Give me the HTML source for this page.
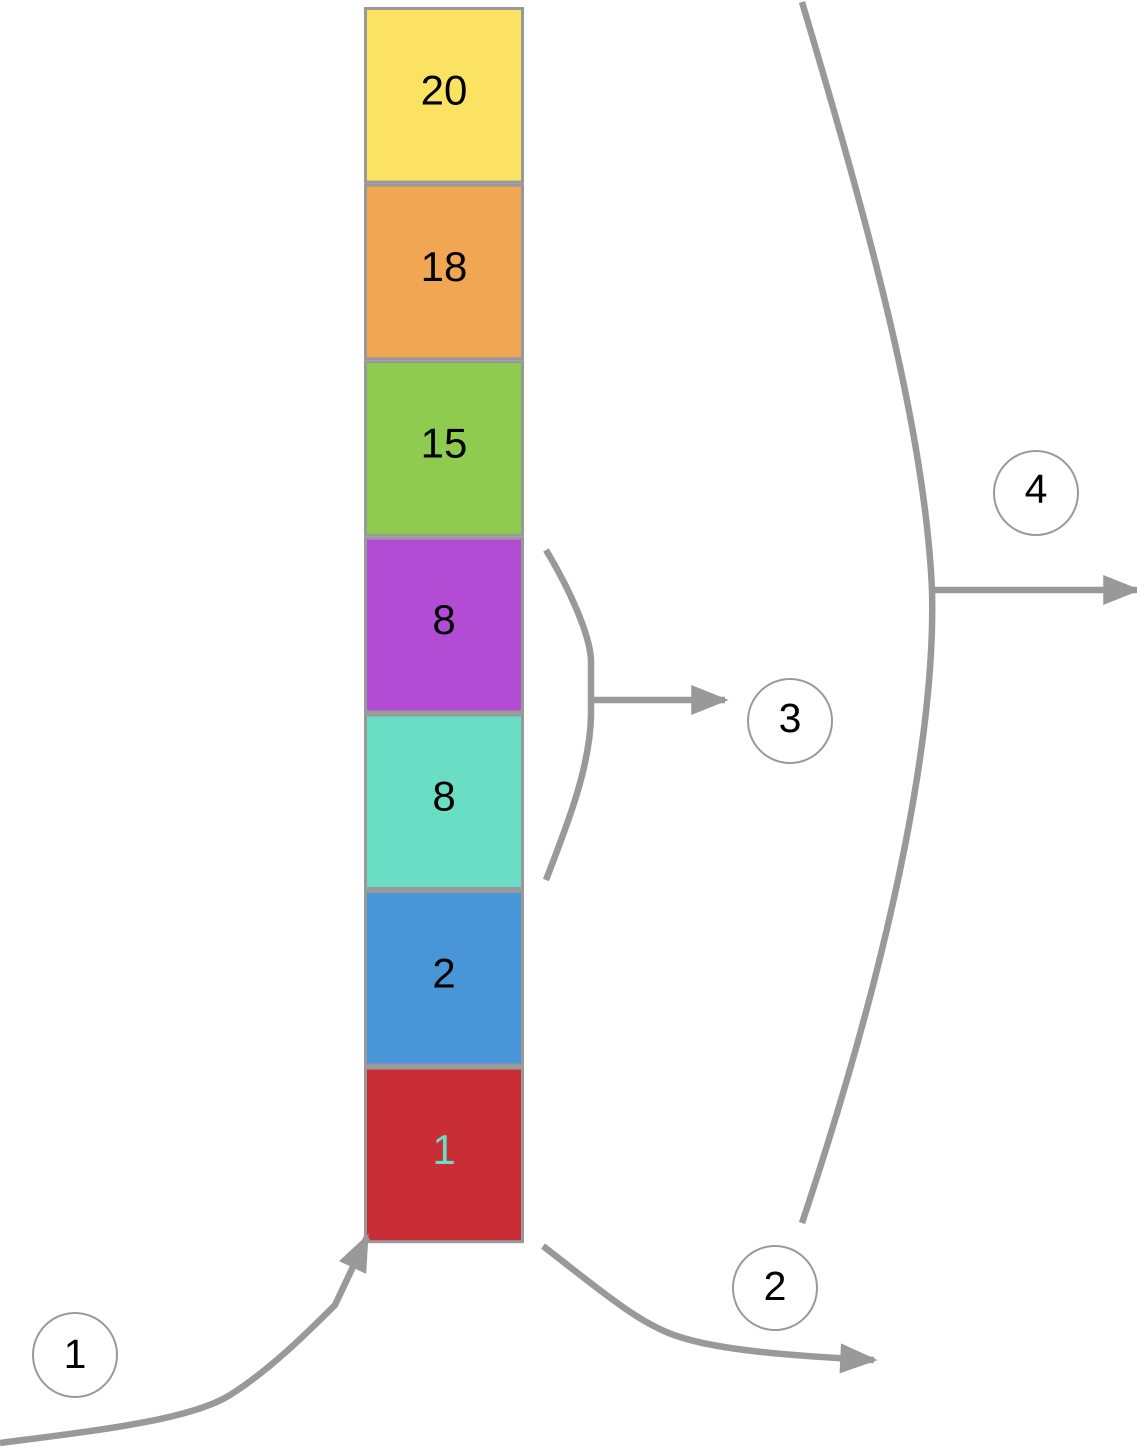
<!DOCTYPE html>
<html><head><meta charset="utf-8"><style>
html,body{margin:0;padding:0;background:#fff;}
svg{display:block;font-family:"Liberation Sans",sans-serif;}
</style></head><body>
<svg id="chart" width="1137" height="1452" viewBox="0 0 1137 1452">
<defs>
<marker id="ah2" viewBox="0 0 10 8" refX="9" refY="4" markerWidth="48" markerHeight="30" orient="auto" markerUnits="userSpaceOnUse">
<path d="M0,0 L10,4 L0,8 Z" fill="#999"/>
</marker>
</defs>
<g id="boxes"></g>
<g fill="none" stroke="#999" stroke-width="6.5">
<path d="M0,1443 C100,1430 190,1420 230,1395 C270,1370 310,1330 335,1305 L367,1237" marker-end="url(#ah2)"/>
<path d="M543,1246 C600,1290 640,1325 680,1337 C720,1350 790,1356 874,1360" marker-end="url(#ah2)"/>
<path d="M546,550 C570,590 590,635 591,660 L591,715 C590,770 565,830 546,880"/>
<path d="M591,700 L725,700" marker-end="url(#ah2)"/>
<path d="M802,2 C870,230 925,430 932,590 C935,700 910,900 802,1223"/>
<path d="M932,590 L1137,590" marker-end="url(#ah2)"/>
</g>
<g font-size="41" text-anchor="middle" fill="#000">
<g><circle cx="75" cy="1355" r="42" fill="#fff" stroke="#999" stroke-width="2"/><text x="75" y="1368">1</text></g>
<g><circle cx="775" cy="1288" r="42" fill="#fff" stroke="#999" stroke-width="2"/><text x="775" y="1300">2</text></g>
<g><circle cx="790" cy="721" r="42" fill="#fff" stroke="#999" stroke-width="2"/><text x="790" y="732">3</text></g>
<g><circle cx="1036" cy="493" r="42" fill="#fff" stroke="#999" stroke-width="2"/><text x="1036" y="503">4</text></g>
</g>
</svg>
<script>
const values = [20, 18, 15, 8, 8, 2, 1];
const fills = ["#FBE263", "#F1A653", "#8FCB4F", "#B34CD5", "#6ADEC4", "#4895D8", "#C92E36"];
const textColors = ["#000", "#000", "#000", "#000", "#000", "#000", "#6ADEC4"];
const NS = "http://www.w3.org/2000/svg";
const g = document.getElementById("boxes");
const x0 = 364, w = 160, top0 = 7, h = 176.6;
values.forEach((v, i) => {
  const y = top0 + i * h;
  const r = document.createElementNS(NS, "rect");
  
  
  r.setAttribute("x", x0 + 1.5); r.setAttribute("y", y + 1.5);
  r.setAttribute("width", w - 3); r.setAttribute("height", h - 3);
  r.setAttribute("fill", fills[i]); r.setAttribute("stroke", "#999"); r.setAttribute("stroke-width", "3");
  g.appendChild(r);
  const t = document.createElementNS(NS, "text");
  
  
  t.setAttribute("x", x0 + w / 2); t.setAttribute("y", y + h / 2 + 9);
  t.setAttribute("text-anchor", "middle"); t.setAttribute("font-size", "42");
  t.setAttribute("fill", textColors[i]);
  t.textContent = v;
  g.appendChild(t);
});
</script>
</body></html>
